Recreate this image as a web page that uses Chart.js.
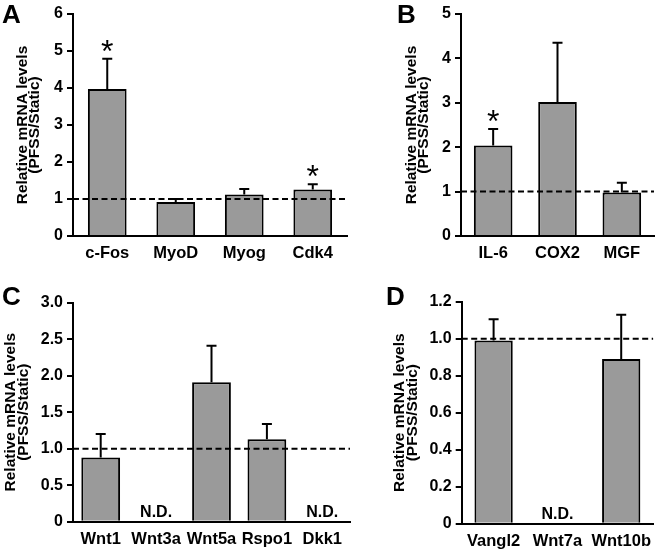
<!DOCTYPE html>
<html><head><meta charset="utf-8">
<script src="https://cdn.jsdelivr.net/npm/chart.js@4.4.0/dist/chart.umd.min.js"></script>
<style>
html,body{margin:0;padding:0;background:#fff}
body{width:660px;height:551px;position:relative;overflow:hidden;font-family:'Liberation Sans',Arial,sans-serif}
canvas{position:absolute}
.letter{position:absolute;font-weight:bold;font-size:26px;line-height:1;color:#000}
</style></head><body>
<canvas id="cA" width="352" height="278" style="left:0;top:0"></canvas>
<canvas id="cB" width="308" height="278" style="left:352px;top:0"></canvas>
<canvas id="cC" width="352" height="273" style="left:0;top:278px"></canvas>
<canvas id="cD" width="308" height="273" style="left:352px;top:278px"></canvas>
<div class="letter" style="left:2px;top:1px">A</div>
<div class="letter" style="left:397px;top:1px">B</div>
<div class="letter" style="left:2px;top:283px">C</div>
<div class="letter" style="left:386px;top:283px">D</div>
<script>
// ---- data ----
const catsA = ['c-Fos','MyoD','Myog','Cdk4'];
const meanA = [3.97, 0.92, 1.12, 1.26];
const errA  = [0.82, 0.08, 0.15, 0.14];
const sigA  = [true, false, false, true];
const ndA   = [false, false, false, false];
const ticksA = ['0','1','2','3','4','5','6'];

const catsB = ['IL-6','COX2','MGF'];
const meanB = [2.04, 3.02, 0.98];
const errB  = [0.37, 1.33, 0.22];
const sigB  = [true, false, false];
const ndB   = [false, false, false];
const ticksB = ['0','1','2','3','4','5'];

const catsC = ['Wnt1','Wnt3a','Wnt5a','Rspo1','Dkk1'];
const meanC = [0.88, null, 1.91, 1.13, null];
const errC  = [0.32, null, 0.50, 0.21, null];
const sigC  = [false, false, false, false, false];
const ndC   = [false, true, false, false, true];
const ticksC = ['0','0.5','1.0','1.5','2.0','2.5','3.0'];

const catsD = ['Vangl2','Wnt7a','Wnt10b'];
const meanD = [0.99, null, 0.89];
const errD  = [0.115, null, 0.24];
const sigD  = [false, false, false];
const ndD   = [false, true, false];
const ticksD = ['0','0.2','0.4','0.6','0.8','1.0','1.2'];

const refValue = 1.0;
const yTitle = ['Relative mRNA levels','(PFSS/Static)'];

const FONT = "'Liberation Sans', Arial, sans-serif";

function overlay(means, errs, sig, nd) {
  return {
    id: 'overlay',
    afterDatasetsDraw(chart) {
      const ctx = chart.ctx;
      const y = chart.scales.y, x = chart.scales.x;
      const area = chart.chartArea;
      ctx.save();
      ctx.strokeStyle = '#000';
      ctx.fillStyle = '#000';
      ctx.lineWidth = 2;
      // error bars
      means.forEach((m, i) => {
        if (m === null || errs[i] === null) return;
        const cx = x.getPixelForValue(i);
        const yb = y.getPixelForValue(m);
        const yt = y.getPixelForValue(m + errs[i]);
        ctx.beginPath();
        ctx.moveTo(cx, yb); ctx.lineTo(cx, yt);
        ctx.moveTo(cx - 5, yt); ctx.lineTo(cx + 5, yt);
        ctx.stroke();
      });
      // reference dashed line
      const yr = y.getPixelForValue(refValue);
      ctx.setLineDash([6, 3.5]);
      ctx.beginPath();
      ctx.moveTo(area.left, yr); ctx.lineTo(area.right, yr);
      ctx.stroke();
      ctx.setLineDash([]);
      // asterisks
      ctx.textAlign = 'center';
      ctx.textBaseline = 'alphabetic';
      ctx.font = "normal 32px " + FONT;
      sig.forEach((s, i) => {
        if (!s) return;
        const cx = x.getPixelForValue(i);
        const yt = y.getPixelForValue(means[i] + errs[i]);
        ctx.fillText('*', cx, yt + 3);
      });
      // N.D.
      ctx.font = "bold 16px " + FONT;
      nd.forEach((n, i) => {
        if (!n) return;
        const cx = x.getPixelForValue(i);
        ctx.fillText('N.D.', cx, area.bottom - 5);
      });
      ctx.restore();
    }
  };
}

function makePanel(id, canvasRect, area, titleLeft, cats, means, errs, sig, nd, yMax, yStep, yLabels, barPct) {
  const ctx = document.getElementById(id).getContext('2d');
  return new Chart(ctx, {
    type: 'bar',
    data: {
      labels: cats,
      datasets: [{
        data: means,
        backgroundColor: '#9a9a9a',
        borderColor: '#000',
        borderWidth: 2,
        barPercentage: barPct,
        categoryPercentage: 1.0
      }]
    },
    options: {
      responsive: false,
      devicePixelRatio: 1,
      animation: false,
      events: [],
      layout: {
        padding: {
          left: titleLeft - canvasRect.x,
          top: area.top - canvasRect.y,
          right: canvasRect.x + canvasRect.w - area.right,
          bottom: 0
        }
      },
      plugins: { legend: { display: false }, tooltip: { enabled: false }, title: { display: false } },
      scales: {
        x: {
          grid: { display: false, drawTicks: false },
          border: { display: true, color: '#000', width: 2 },
          ticks: { color: '#000', font: { family: FONT, size: 16.5, weight: 'bold' }, padding: 8, maxRotation: 0, autoSkip: false },
          afterFit(s) { s.height = canvasRect.y + canvasRect.h - area.bottom; }
        },
        y: {
          min: 0, max: yMax,
          grid: { display: true, drawOnChartArea: false, drawTicks: true, tickLength: 6, color: '#000', lineWidth: 2 },
          border: { display: true, color: '#000', width: 2 },
          ticks: {
            stepSize: yStep, color: '#000', padding: 4,
            font: { family: FONT, size: 16, weight: 'bold' },
            callback: (v, i) => yLabels[i]
          },
          title: {
            display: true, text: yTitle, color: '#000',
            font: { family: FONT, size: 15.5, weight: 'bold', lineHeight: 0.82 },
            padding: { top: 0, bottom: 0 }
          },
          afterFit(s) { s.width = area.left - titleLeft; }
        }
      }
    },
    plugins: [overlay(means, errs, sig, nd)]
  });
}

makePanel('cA', {x:0, y:0, w:352, h:278}, {left:73, right:347, top:14, bottom:236}, 16,
  catsA, meanA, errA, sigA, ndA, 6, 1, ticksA, 0.565);
makePanel('cB', {x:352, y:0, w:308, h:278}, {left:461, right:654, top:14, bottom:236}, 405,
  catsB, meanB, errB, sigB, ndB, 5, 1, ticksB, 0.6);
makePanel('cC', {x:0, y:278, w:352, h:273}, {left:73, right:350, top:302.7, bottom:521.7}, 4.5,
  catsC, meanC, errC, sigC, ndC, 3, 0.5, ticksC, 0.7);
makePanel('cD', {x:352, y:278, w:308, h:273}, {left:461.7, right:654, top:301.7, bottom:523.7}, 393.6,
  catsD, meanD, errD, sigD, ndD, 1.2, 0.2, ticksD, 0.6);
</script>
</body></html>
